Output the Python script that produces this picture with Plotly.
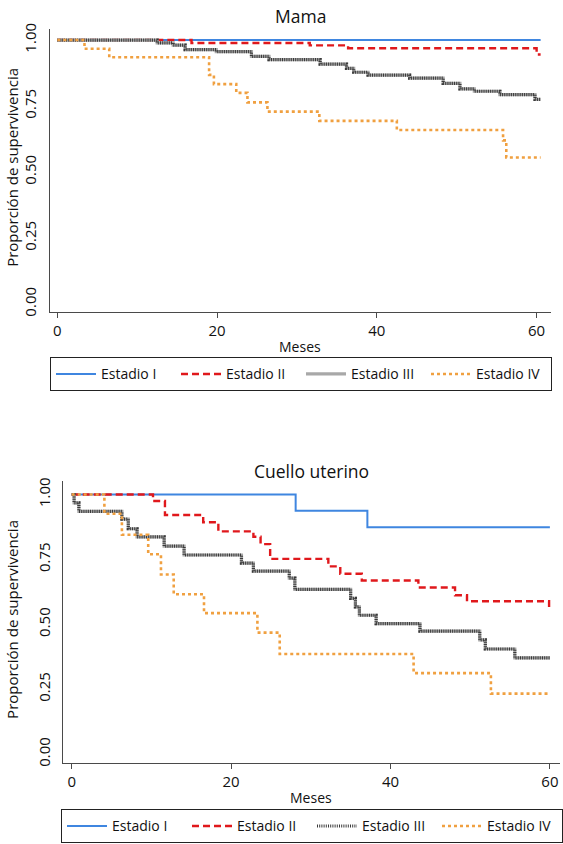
import plotly.graph_objects as go

# ---------------- data ----------------
stages = ["Estadio I", "Estadio II", "Estadio III", "Estadio IV"]
x_ticks = [0, 20, 40, 60]
y_ticks = [0, 0.25, 0.5, 0.75, 1.0]
y_tick_labels = ["0.00", "0.25", "0.50", "0.75", "1.00"]

# Mama
mama_t1 = [0, 60.5]
mama_s1 = [1.0, 1.0]
mama_t2 = [0, 16.8, 31.6, 36.4, 60.0, 60.5]
mama_s2 = [1.0, 0.989, 0.980, 0.969, 0.945, 0.945]
mama_t3 = [0, 12.5, 14.5, 16.0, 19.9, 24.3, 26.5, 32.9, 36.2, 37.1, 38.9,
           44.1, 48.3, 50.4, 52.2, 55.4, 59.8, 60.5]
mama_s3 = [1.0, 0.989, 0.981, 0.964, 0.956, 0.938, 0.926, 0.909, 0.893, 0.878,
           0.867, 0.856, 0.836, 0.815, 0.806, 0.793, 0.775, 0.775]
mama_t4 = [0, 3.4, 6.5, 19.0, 19.6, 22.4, 23.8, 26.3, 32.8, 42.5, 55.8, 56.2, 60.5]
mama_s4 = [1.0, 0.967, 0.935, 0.868, 0.833, 0.800, 0.764, 0.729, 0.694, 0.659,
           0.620, 0.555, 0.555]

# Cuello uterino
cu_t1 = [0, 28.1, 37.1, 60]
cu_s1 = [1.0, 0.937, 0.874, 0.874]
cu_t2 = [0, 10.2, 11.7, 16.5, 18.4, 22.8, 23.7, 24.9, 32.2, 33.7, 36.4, 43.5,
         48.1, 49.6, 59.9, 60]
cu_s2 = [1.0, 0.975, 0.921, 0.893, 0.858, 0.837, 0.809, 0.752, 0.723, 0.695,
         0.669, 0.642, 0.612, 0.589, 0.566, 0.566]
cu_t3 = [0, 0.3, 0.9, 6.3, 7.1, 8.2, 11.6, 14.1, 21.3, 22.8, 27.3, 28.0, 35.0,
         35.6, 36.1, 38.2, 43.7, 51.2, 51.9, 55.6, 60]
cu_s3 = [1.0, 0.968, 0.935, 0.905, 0.868, 0.837, 0.801, 0.767, 0.736, 0.705,
         0.678, 0.635, 0.600, 0.567, 0.535, 0.503, 0.474, 0.440, 0.405, 0.371, 0.371]
cu_t4 = [0, 4.1, 6.3, 9.6, 11.2, 12.8, 16.6, 23.3, 26.1, 42.9, 52.6, 60]
cu_s4 = [1.0, 0.926, 0.845, 0.770, 0.692, 0.616, 0.543, 0.468, 0.386, 0.312,
         0.233, 0.233]

# ---------------- styles ----------------
W, H = 563, 844
FONT = "Open Sans"
BLUE = "#3f86e0"
RED = "#e0181c"
GRAY = "#a8a8a8"
DARK = "#3a3a3a"
ORANGE = "#f0a040"
AXIS = "#4a4a4a"


def px_x(p):
    return p / W


def px_y(p):
    return 1 - p / H


fig = go.Figure()


def add_panel(xa, ya, legend, data, hatched_legend):
    (t1, s1), (t2, s2), (t3, s3), (t4, s4) = data
    fig.add_trace(go.Scatter(x=t1, y=s1, mode="lines", line_shape="hv", name=stages[0],
                             line=dict(color=BLUE, width=2), xaxis=xa, yaxis=ya,
                             legend=legend))
    fig.add_trace(go.Scatter(x=t2, y=s2, mode="lines", line_shape="hv", name=stages[1],
                             line=dict(color=RED, width=2.4, dash="7px,4px"),
                             xaxis=xa, yaxis=ya, legend=legend))
    fig.add_trace(go.Scatter(x=t3, y=s3, mode="lines", line_shape="hv", name=stages[2],
                             line=dict(color=GRAY, width=3.2), xaxis=xa, yaxis=ya,
                             legend=legend, legendgroup=legend + "g3",
                             showlegend=not hatched_legend))
    fig.add_trace(go.Scatter(x=t3, y=s3, mode="lines", line_shape="hv", name=stages[2],
                             line=dict(color=DARK, width=3.2, dash="1px,1.2px"),
                             xaxis=xa, yaxis=ya, legend=legend,
                             legendgroup=legend + "g3", showlegend=hatched_legend))
    fig.add_trace(go.Scatter(x=t4, y=s4, mode="lines", line_shape="hv", name=stages[3],
                             line=dict(color=ORANGE, width=2.6, dash="3px,3px"),
                             xaxis=xa, yaxis=ya, legend=legend))


add_panel("x", "y", "legend",
          [(mama_t1, mama_s1), (mama_t2, mama_s2), (mama_t3, mama_s3), (mama_t4, mama_s4)],
          False)
add_panel("x2", "y2", "legend2",
          [(cu_t1, cu_s1), (cu_t2, cu_s2), (cu_t3, cu_s3), (cu_t4, cu_s4)],
          True)

xaxis_common = dict(showline=True, linecolor=AXIS, linewidth=1.2, showgrid=False,
                    zeroline=False, tickmode="array", tickvals=x_ticks,
                    ticks="outside", ticklen=5, tickcolor=AXIS, tickwidth=1.2,
                    tickfont=dict(family=FONT, size=15, color="#111"))
yaxis_common = dict(showline=True, linecolor=AXIS, linewidth=1.2, showgrid=False,
                    zeroline=False, tickmode="array", tickvals=y_ticks,
                    ticktext=y_tick_labels, ticks="", tickangle=-90,
                    ticklabelstandoff=6,
                    tickfont=dict(family=FONT, size=15, color="#111"))

legend_common = dict(orientation="h", xanchor="left", yanchor="top",
                     bordercolor="#222", borderwidth=1, bgcolor="white",
                     font=dict(family=FONT, size=14, color="#111"),
                     itemwidth=40, entrywidth=70, entrywidthmode="pixels",
                     traceorder="normal", itemclick=False)

fig.update_layout(
    width=W, height=H,
    margin=dict(l=0, r=0, t=0, b=0),
    paper_bgcolor="white", plot_bgcolor="white",
    font=dict(family=FONT, color="#111"),
    xaxis=dict(xaxis_common, domain=[px_x(49.5), px_x(551)], range=[-0.98, 61.8],
               anchor="y"),
    yaxis=dict(yaxis_common, domain=[px_y(310), px_y(23)], range=[-0.030, 1.043],
               anchor="x"),
    xaxis2=dict(xaxis_common, domain=[px_x(62.7), px_x(560)], range=[-1.13, 61.27],
                anchor="y2"),
    yaxis2=dict(yaxis_common, domain=[px_y(767), px_y(481)], range=[-0.034, 1.053],
                anchor="x2"),
    legend=dict(legend_common, x=px_x(50), y=px_y(356)),
    legend2=dict(legend_common, x=px_x(62.7), y=px_y(814)),
    showlegend=True,
    annotations=[
        dict(text="Mama", x=px_x(300), y=px_y(10), xref="paper", yref="paper",
             showarrow=False, font=dict(family=FONT, size=17.5, color="#111"),
             xanchor="center", yanchor="middle"),
        dict(text="Cuello uterino", x=px_x(311), y=px_y(471), xref="paper", yref="paper",
             showarrow=False, font=dict(family=FONT, size=17.5, color="#111"),
             xanchor="center", yanchor="middle"),
        dict(text="Meses", x=px_x(300), y=px_y(345), xref="paper", yref="paper",
             showarrow=False, font=dict(family=FONT, size=14, color="#111"),
             xanchor="center", yanchor="middle"),
        dict(text="Meses", x=px_x(311), y=px_y(802), xref="paper", yref="paper",
             showarrow=False, font=dict(family=FONT, size=14, color="#111"),
             xanchor="center", yanchor="middle"),
        dict(text="Proporción de supervivencia", x=px_x(12), y=px_y(164), xref="paper",
             yref="paper", showarrow=False, textangle=-90,
             font=dict(family=FONT, size=15, color="#111"),
             xanchor="center", yanchor="middle"),
        dict(text="Proporción de supervivencia", x=px_x(12), y=px_y(622), xref="paper",
             yref="paper", showarrow=False, textangle=-90,
             font=dict(family=FONT, size=15, color="#111"),
             xanchor="center", yanchor="middle"),
    ],
)

fig.write_html("out.html", config={"displayModeBar": False},
               post_script="document.body.style.margin='0px';")
